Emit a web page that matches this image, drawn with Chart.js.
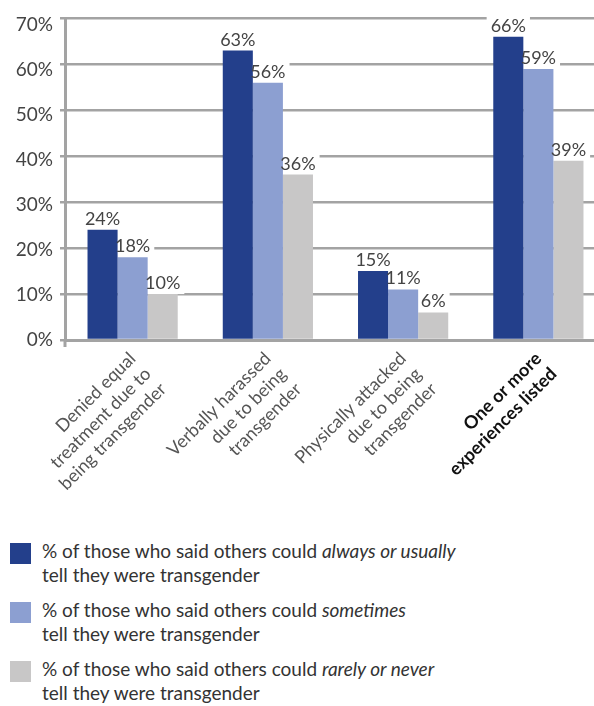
<!DOCTYPE html>
<html>
<head>
<meta charset="utf-8">
<script src="https://cdn.jsdelivr.net/npm/chart.js@4.4.1/dist/chart.umd.min.js"></script>
<style>
html,body{margin:0;padding:0;background:#fff;overflow:hidden;width:594px;height:706px}
#wrap{position:absolute;left:0;top:0;width:606px;height:525px}
#legend{position:absolute;left:10px;top:539px;font-family:Lato,sans-serif;font-size:19px;line-height:24px;color:#333}
.item{position:relative;padding-left:32px;height:48px;margin-bottom:11px;white-space:nowrap}
.sw{position:absolute;left:0;top:4px;width:21px;height:21px}
</style>
</head>
<body>
<div id="wrap"><canvas id="chart"></canvas></div>
<div id="legend"></div>
<script>
// Data
const categories = [
  ['Denied equal','treatment due to','being transgender'],
  ['Verbally harassed','due to being','transgender'],
  ['Physically attacked','due to being','transgender'],
  ['One or more','experiences listed']
];
const alwaysUsually = [24, 63, 15, 66];
const sometimes     = [18, 56, 11, 59];
const rarelyNever   = [10, 36, 6, 39];
const seriesLead  = ['% of those who said others could ', '% of those who said others could ', '% of those who said others could '];
const seriesEmph  = ['always or usually', 'sometimes', 'rarely or never'];
const seriesTail  = ['tell they were transgender', 'tell they were transgender', 'tell they were transgender'];
const yMin = 0, yMax = 70, yStep = 10;

const COLORS = ['#233f8b', '#8c9fd1', '#c8c7c7'];
const GRID = '#a3a3a3';
const FONT = 'Lato, sans-serif';

// Legend (html so the italic bits stay italic)
document.getElementById('legend').innerHTML = seriesLead.map((s,i)=>
  `<div class="item"><span class="sw" style="background:${COLORS[i]}"></span>${s}<i>${seriesEmph[i]}</i><br>${seriesTail[i]}</div>`).join('');

// value labels on a white box, box behind the bars, text on top
const valueLabels = {
  id:'valueLabels',
  beforeDatasetsDraw(chart){
    const ctx = chart.ctx; ctx.save();
    ctx.font = `18px ${FONT}`;
    chart.data.datasets.forEach((ds,di)=>{
      chart.getDatasetMeta(di).data.forEach((bar,i)=>{
        const w = ctx.measureText(ds.data[i]+'%').width;
        ctx.fillStyle = '#fff';
        ctx.fillRect(bar.x - w/2 - 4, bar.y - 20, w + 8, 20);
      });
    });
    ctx.restore();
  },
  afterDatasetsDraw(chart){
    const ctx = chart.ctx; ctx.save();
    ctx.font = `18px ${FONT}`; ctx.fillStyle = '#444';
    ctx.textAlign = 'center'; ctx.textBaseline = 'alphabetic';
    chart.data.datasets.forEach((ds,di)=>{
      chart.getDatasetMeta(di).data.forEach((bar,i)=>{
        ctx.fillText(ds.data[i]+'%', bar.x, bar.y - 5);
      });
    });
    // little stub of the y axis below zero
    const a = chart.chartArea;
    ctx.strokeStyle = GRID; ctx.lineWidth = 3;
    ctx.beginPath(); ctx.moveTo(a.left, a.bottom); ctx.lineTo(a.left, a.bottom + 7); ctx.stroke();
    ctx.restore();
  }
};

new Chart(document.getElementById('chart'), {
  type:'bar',
  data:{
    labels: categories,
    datasets:[
      { label: seriesEmph[0], data: alwaysUsually, backgroundColor: COLORS[0] },
      { label: seriesEmph[1], data: sometimes,     backgroundColor: COLORS[1] },
      { label: seriesEmph[2], data: rarelyNever,   backgroundColor: COLORS[2] }
    ]
  },
  options:{
    responsive:true, maintainAspectRatio:false, animation:false,
    layout:{ padding:{ top:14, right:0, bottom:0, left:0 } },
    datasets:{ bar:{ barPercentage:1, categoryPercentage:0.667 } },
    plugins:{ legend:{ display:false }, tooltip:{ enabled:false } },
    scales:{
      x:{
        grid:{ display:false, drawTicks:false },
        border:{ display:true, color:GRID, width:3 },
        ticks:{
          autoSkip:false, minRotation:45, maxRotation:45, padding:8,
          font:(c)=>({ family:FONT, size:18, lineHeight:1.2, weight: c.index===3 ? 'bold' : 'normal' }),
          color:(c)=> c.index===3 ? '#111' : '#555'
        },
        afterFit(s){ s.height = 185; }
      },
      y:{
        min:yMin, max:yMax, weight:0,
        ticks:{ stepSize:yStep, display:false },
        grid:{ color:GRID, lineWidth:2.5, tickLength:5, drawTicks:true },
        border:{ display:true, color:GRID, width:3 },
        afterFit(s){ s.width = 5; }
      },
      // label axis; its labels sit a touch lower than the grid, like the original
      yl:{
        position:'left', min:yMin, max:71.55, weight:1,
        ticks:{ stepSize:yStep, includeBounds:false, padding:7, color:'#444',
                font:{ family:FONT, size:19 }, callback:(v)=> v % 10 === 0 ? v + '%' : null },
        grid:{ display:false, drawTicks:false },
        border:{ display:false },
        afterFit(s){ s.width = 60; }
      }
    }
  },
  plugins:[valueLabels]
});
</script>
</body>
</html>
